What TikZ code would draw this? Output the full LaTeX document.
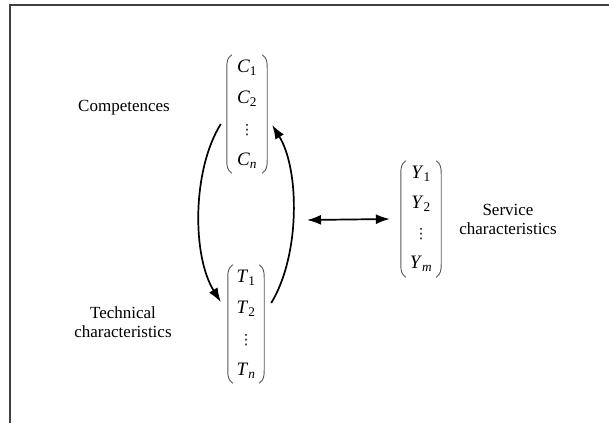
\documentclass[tikz,border=0pt]{standalone}
\usepackage{fontspec}
\setmainfont{Liberation Serif}
\newfontfamily\dvfont{DejaVu Sans}
\usetikzlibrary{arrows.meta}
\newcommand\ent[2]{\textit{#1}\textsubscript{#2}}
\newcommand\vd{{\dvfont\fontsize{14}{14}\selectfont ⋮}}
\newcommand\parens[1]{%
  \draw[paren] ([xshift=5pt]#1.north west) .. controls ([xshift=0.5pt,yshift=-3pt]#1.north west) and ([yshift=-7pt]#1.north west) .. ([yshift=-13pt]#1.north west)
     -- ([yshift=13pt]#1.south west) .. controls ([yshift=7pt]#1.south west) and ([xshift=0.5pt,yshift=3pt]#1.south west) .. ([xshift=5pt]#1.south west);
  \draw[paren] ([xshift=-5pt]#1.north east) .. controls ([xshift=-0.5pt,yshift=-3pt]#1.north east) and ([yshift=-7pt]#1.north east) .. ([yshift=-13pt]#1.north east)
     -- ([yshift=13pt]#1.south east) .. controls ([yshift=7pt]#1.south east) and ([xshift=-0.5pt,yshift=3pt]#1.south east) .. ([xshift=-5pt]#1.south east);}
\tikzset{
  vec/.style={inner sep=0pt, minimum width=40pt, minimum height=118pt, align=center},
  paren/.style={draw=black!65, line width=0.9pt},
  lbl/.style={font=\fontsize{17}{19}\selectfont, align=center, inner sep=0pt},
  conn/.style={line width=1.7pt, -{Latex[length=14pt,width=10pt]}},
  frame/.style={draw=black!75, line width=2pt}
}
\begin{document}
\begin{tikzpicture}[x=1pt,y=-1pt]
\useasboundingbox (0,0) rectangle (609,423);
\fill[white] (0,0) rectangle (609,423);
\draw[frame] (10,423) -- (10,5) -- (609,5);

\node[vec, font=\fontsize{19}{31}\selectfont] (C) at (247,114) {\ent{C}{1}\\ \ent{C}{2}\\ \vd\\ \ent{C}{\textit{n}}};
\node[vec, minimum width=36pt, font=\fontsize{19}{31}\selectfont] (T) at (246,324) {\ent{T}{1}\\ \ent{T}{2}\\ \vd\\ \ent{T}{\textit{n}}};
\node[vec, minimum height=116pt, font=\fontsize{19}{30}\selectfont] (Y) at (421,219) {\ent{Y}{1}\\ \ent{Y}{2}\\ \vd\\ \ent{Y}{\textit{m}}};
\parens{C}
\parens{T}
\parens{Y}

\node[lbl] (comp) at (124,108) {Competences};
\node[lbl] (tech) at (123,322) {Technical\\characteristics};
\node[lbl] (serv) at (508,219) {Service\\characteristics};

\draw[conn] ([shift={(-6,10)}]C.west) .. controls (192,170) and (192,256) .. ([shift={(-7,-22)}]T.west);
\draw[conn] ([shift={(7,-21)}]T.east) .. controls (300,256) and (300,170) .. ([shift={(5,11)}]C.east);
\coordinate (m) at (307,220);
\draw[line width=1.7pt, {Latex[length=14pt,width=10pt]}-{Latex[length=14pt,width=10pt]}] (m) -- ([xshift=-11pt]Y.west);
\end{tikzpicture}
\end{document}
